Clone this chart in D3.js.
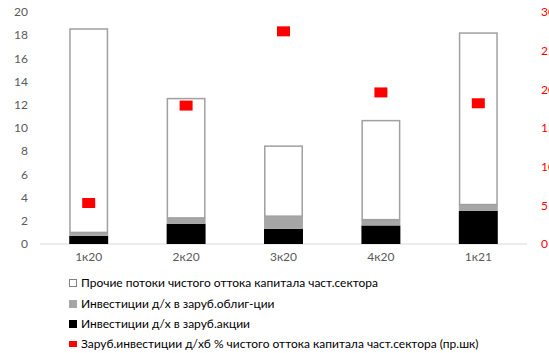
<!DOCTYPE html>
<html>
<head>
<meta charset="utf-8">
<script src="https://cdn.jsdelivr.net/npm/d3@7/dist/d3.min.js"></script>
<style>
  html, body { margin: 0; padding: 0; background: #fff; }
  svg { display: block; }
  text { font-family: Lato, "Open Sans", sans-serif; }
</style>
</head>
<body>
<svg id="chart" width="549" height="353"></svg>
<script>
// Quarters
const quarters = ["1к20", "2к20", "3к20", "4к20", "1к21"];
// Household investment in foreign equities
const equities = [0.7, 1.75, 1.3, 1.6, 2.85];
// Household investment in foreign bonds
const bonds = [0.3, 0.5, 1.1, 0.5, 0.55];
// Other net private capital outflows
const otherFlows = [17.6, 10.35, 6.1, 8.6, 14.85];
// Foreign investment share of net private outflows, % (right axis)
const sharePct = [5.3, 17.9, 27.5, 19.6, 18.2];

const leftTicks = [0, 2, 4, 6, 8, 10, 12, 14, 16, 18, 20];
const rightTicks = [0, 5, 10, 15, 20, 25, 30];

const legendLabels = [
  "Прочие потоки чистого оттока капитала част.сектора",
  "Инвестиции д/х в заруб.облиг-ции",
  "Инвестиции д/х в заруб.акции",
  "Заруб.инвестиции д/хб % чистого оттока капитала част.сектора (пр.шк)"
];

const svg = d3.select("#chart");

const x = d3.scaleBand().domain(quarters).range([40, 527])
  .paddingInner(0.6).paddingOuter(0.3);
const yL = d3.scaleLinear().domain([0, 20]).range([244, 12]);
const yR = d3.scaleLinear().domain([0, 30]).range([244, 12]);

const rows = quarters.map((q, i) => ({
  q, eq: equities[i], bd: bonds[i], ot: otherFlows[i], pct: sharePct[i]
}));

// Left axis labels
svg.append("g").selectAll("text").data(leftTicks).join("text")
  .attr("x", 28).attr("y", d => yL(d)).attr("dy", "0.35em")
  .attr("text-anchor", "end").attr("font-size", 12).attr("fill", "#595959")
  .text(d => d);

// Right axis labels (red)
svg.append("g").selectAll("text").data(rightTicks).join("text")
  .attr("x", 541).attr("y", d => yR(d)).attr("dy", "0.35em")
  .attr("text-anchor", "start").attr("font-size", 12).attr("fill", "#ff0000")
  .text(d => d);

// Baseline
svg.append("line").attr("x1", 40).attr("x2", 527)
  .attr("y1", yL(0)).attr("y2", yL(0))
  .attr("stroke", "#d9d9d9").attr("stroke-width", 1);

const bw = x.bandwidth();
const g = svg.append("g");

// Equities (black)
g.selectAll("rect.eq").data(rows).join("rect").attr("class", "eq")
  .attr("x", d => x(d.q)).attr("width", bw)
  .attr("y", d => yL(d.eq)).attr("height", d => yL(0) - yL(d.eq))
  .attr("fill", "#000");

// Bonds (gray)
g.selectAll("rect.bd").data(rows).join("rect").attr("class", "bd")
  .attr("x", d => x(d.q)).attr("width", bw)
  .attr("y", d => yL(d.eq + d.bd)).attr("height", d => yL(d.eq) - yL(d.eq + d.bd))
  .attr("fill", "#a6a6a6");

// Other flows (white with gray outline)
g.selectAll("rect.ot").data(rows).join("rect").attr("class", "ot")
  .attr("x", d => x(d.q) + 0.75).attr("width", bw - 1.5)
  .attr("y", d => yL(d.eq + d.bd + d.ot) + 0.75)
  .attr("height", d => yL(d.eq + d.bd) - yL(d.eq + d.bd + d.ot) - 0.75)
  .attr("fill", "#fff").attr("stroke", "#a0a0a0").attr("stroke-width", 1.5);

// Share markers (red squares, right axis)
const mw = 13, mh = 10;
g.selectAll("rect.pct").data(rows).join("rect").attr("class", "pct")
  .attr("x", d => x(d.q) + bw / 2 - mw / 2).attr("width", mw)
  .attr("y", d => yR(d.pct) - mh / 2).attr("height", mh)
  .attr("fill", "#ff0000");

// Category labels
svg.append("g").selectAll("text").data(quarters).join("text")
  .attr("x", d => x(d) + bw / 2).attr("y", 257).attr("dy", "0.35em")
  .attr("text-anchor", "middle").attr("font-size", 12).attr("fill", "#595959")
  .text(d => d);

// Legend
const legendY = [283, 304, 324, 344];
const lg = svg.append("g");
// markers
lg.append("rect").attr("x", 69.5).attr("y", legendY[0] - 3.5).attr("width", 7).attr("height", 7)
  .attr("fill", "#fff").attr("stroke", "#808080").attr("stroke-width", 1);
lg.append("rect").attr("x", 69).attr("y", legendY[1] - 4).attr("width", 8).attr("height", 8)
  .attr("fill", "#a6a6a6");
lg.append("rect").attr("x", 69).attr("y", legendY[2] - 4).attr("width", 8).attr("height", 8)
  .attr("fill", "#000");
lg.append("rect").attr("x", 69).attr("y", legendY[3] - 3).attr("width", 8).attr("height", 6)
  .attr("fill", "#ff0000");
lg.selectAll("text").data(legendLabels).join("text")
  .attr("x", 81).attr("y", (d, i) => legendY[i]).attr("dy", "0.35em")
  .attr("font-size", 12).attr("fill", "#000")
  .text(d => d);
</script>
</body>
</html>
